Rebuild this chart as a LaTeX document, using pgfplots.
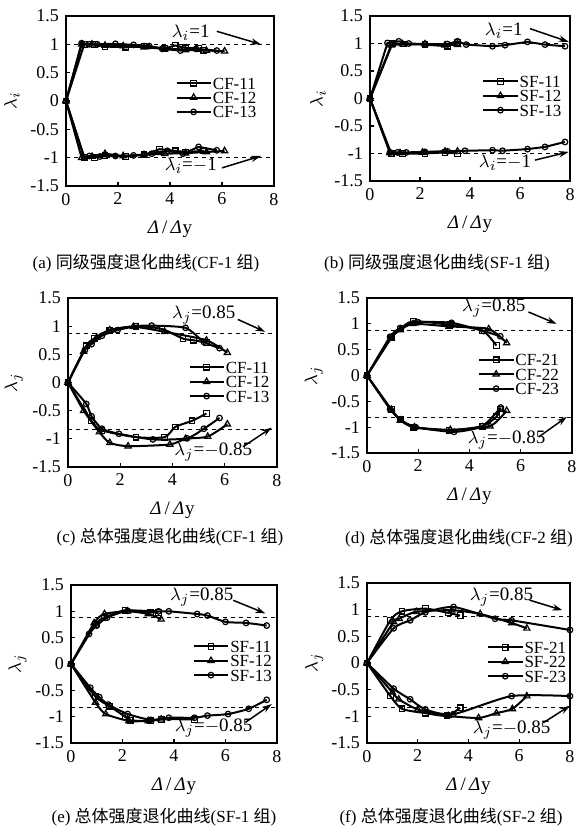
\documentclass[border=0pt]{standalone}
\usepackage{fontspec}
\setmainfont{Liberation Serif}
\newfontfamily\cjk{Noto Sans CJK SC}
\usepackage{pgfplots}
\pgfplotsset{compat=1.18}
\usetikzlibrary{arrows.meta}

\pgfplotsset{
 panel/.style={scale only axis, xmin=0,xmax=8,ymin=-1.5,ymax=1.5,
  xtick={0,2,4,6,8}, xticklabels={0,2,4,6,8},
  ytick={-1.5,-1,-0.5,0,0.5,1,1.5}, yticklabels={-1.5,-1,-0.5,0,0.5,1,1.5},
  tick align=inside, xtick pos=bottom, ytick pos=left, major tick length=2pt,
  axis line style={line width=0.8pt},
  every tick/.style={black,line width=0.6pt},
  ticklabel style={font=\fontsize{9}{10}\selectfont},
  xlabel={\textit{Δ}\,/\,\textit{Δ}\kern0.5pt y},
  xlabel style={yshift=-1pt},
  label style={font=\fontsize{9.5}{10}\selectfont},
  ylabel style={at={(axis description cs:-0.26,0.5)}, anchor=center},
  legend cell align=left,
  legend style={draw=none, fill=none, font=\fontsize{8.5}{8.5}\selectfont, anchor=north west, inner sep=0pt, row sep=0pt, nodes={inner sep=0.6pt, text height=6pt, text depth=0pt}},
 },
 s1/.style={black, line width=1pt, mark=square, mark size=1.4pt, mark options={fill=white, line width=0.6pt, solid}},
 s2/.style={black, line width=1pt, mark=triangle, mark size=1.8pt, mark options={fill=white, line width=0.6pt, solid}},
 s3/.style={black, line width=1pt, mark=o, mark size=1.4pt, mark options={fill=white, line width=0.6pt, solid}},
 refl/.style={black, line width=0.4pt, dash pattern=on 2pt off 2pt, forget plot},
}
\tikzset{
 arr/.style={-{Stealth[length=5pt,width=3.2pt]}, line width=0.75pt},
 lab/.style={font=\fontsize{9.5}{10}\selectfont, inner sep=0.5pt},
 capt/.style={font=\fontsize{8.5}{10}\selectfont, inner sep=0pt},
}

\begin{document}
\begin{tikzpicture}
\path[use as bounding box] (0,0) rectangle (289.5pt,-416pt);

% (a)
\begin{axis}[panel, at={(33pt,-8pt)}, anchor=north west, width=104pt, height=85pt,
  ylabel={$\lambda_i$}, legend style={at={(0.525,0.65)}}]
\addplot[refl] coordinates {(0,1) (8,1)};
\addplot[refl] coordinates {(0,-1) (8,-1)};
\addplot[s1] coordinates {(0,0) (0.7,1.0) (1.1,1.0) (1.5,0.96) (2.3,0.95) (3.0,0.97) (3.8,0.93) (4.2,0.98) (4.6,0.94) (5.1,0.93) (5.3,0.89)};
\addplot[s2] coordinates {(0,0) (0.6,1.0) (1.0,1.0) (1.5,0.98) (2.2,0.97) (3.0,0.95) (3.8,0.92) (4.6,0.9) (5.4,0.89) (6.1,0.88)};
\addplot[s3] coordinates {(0,0) (0.6,1.02) (0.9,1.0) (1.2,1.0) (1.9,1.01) (2.6,0.99) (3.2,0.97) (3.7,0.92) (4.4,0.89) (5.0,0.92) (5.8,0.89)};
\addplot[s1, forget plot] coordinates {(0,0) (0.7,-1.0) (1.1,-1.0) (1.5,-0.96) (2.3,-0.98) (3.0,-0.95) (3.6,-0.85) (4.2,-0.88) (4.6,-0.9) (5.3,-0.88)};
\addplot[s2, forget plot] coordinates {(0,0) (0.6,-1.0) (1.0,-0.98) (1.5,-0.93) (2.2,-0.97) (3.0,-0.95) (3.8,-0.93) (4.6,-0.92) (5.4,-0.9) (6.1,-0.88)};
\addplot[s3, forget plot] coordinates {(0,0) (0.7,-0.99) (0.9,-0.97) (1.3,-0.98) (1.9,-0.97) (2.6,-0.96) (3.3,-0.93) (3.9,-0.88) (4.5,-0.93) (5.1,-0.81) (5.8,-0.87)};
\legend{CF-11,CF-12,CF-13}
\node[lab] at (axis cs:4.8,1.2) {$\lambda_i$=1};
\draw[arr] (axis cs:5.8,1.23) -- (axis cs:7.5,1.0);
\node[lab] at (axis cs:4.8,-1.14) {$\lambda_i$=$-$1};
\draw[arr] (axis cs:6.0,-1.18) -- (axis cs:7.5,-0.97);
\end{axis}

% (b)
\begin{axis}[panel, at={(185pt,-8pt)}, anchor=north west, width=100pt, height=82.5pt,
  ylabel={$\lambda_i$}, legend style={at={(0.56,0.65)}}]
\addplot[refl] coordinates {(0,1) (8,1)};
\addplot[refl] coordinates {(0,-1) (8,-1)};
\addplot[s1] coordinates {(0,0) (0.9,1.0) (1.35,0.99) (2.2,0.98) (3.1,0.95) (3.5,1.02)};
\addplot[s2] coordinates {(0,0) (0.85,0.97) (1.3,0.99) (2.2,0.99) (3.0,0.97) (3.5,0.98)};
\addplot[s3] coordinates {(0,0) (0.7,1.01) (1.15,1.04) (1.55,1.0) (2.2,0.99) (3.1,0.99) (3.5,1.04) (3.85,0.98) (4.9,0.95) (5.4,0.97) (6.3,1.03) (7.0,0.98) (7.8,0.95)};
\addplot[s1, forget plot] coordinates {(0,0) (0.85,-1.0) (1.3,-1.0) (2.2,-1.0) (3.0,-0.98) (3.5,-1.0)};
\addplot[s2, forget plot] coordinates {(0,0) (0.8,-0.99) (1.2,-0.99) (2.1,-0.98) (3.0,-0.96) (3.5,-0.96)};
\addplot[s3, forget plot] coordinates {(0,0) (0.8,-0.98) (1.1,-0.98) (1.45,-0.98) (2.2,-0.97) (3.1,-0.96) (3.8,-0.95) (4.9,-0.94) (5.3,-0.95) (6.3,-0.92) (7.0,-0.88) (7.8,-0.79)};
\legend{SF-11,SF-12,SF-13}
\node[lab] at (axis cs:5.35,1.23) {$\lambda_i$=1};
\draw[arr] (axis cs:6.4,1.27) -- (axis cs:7.95,1.03);
\node[lab] at (axis cs:5.4,-1.17) {$\lambda_i$=$-$1};
\draw[arr] (axis cs:6.6,-1.12) -- (axis cs:7.95,-0.97);
\end{axis}

% (c)
\begin{axis}[panel, at={(34pt,-149pt)}, anchor=north west, width=104.5pt, height=84.5pt,
  ylabel={$\lambda_j$}, legend style={at={(0.575,0.635)}}]
\addplot[refl] coordinates {(0,0.87) (8,0.87)};
\addplot[refl] coordinates {(0,-0.83) (8,-0.83)};
\addplot[s1, smooth, tension=0.4] coordinates {(0,0) (0.7,0.65) (1.0,0.78) (1.6,0.93) (2.6,1.0) (3.6,0.95) (4.4,0.78) (4.8,0.75) (5.3,0.71)};
\addplot[s2, smooth, tension=0.4] coordinates {(0,0) (0.6,0.55) (1.1,0.8) (1.6,0.93) (2.5,0.99) (3.7,0.9) (5.3,0.75) (6.1,0.53)};
\addplot[s3, smooth, tension=0.4] coordinates {(0,0) (0.65,0.58) (0.9,0.68) (1.3,0.83) (1.9,0.93) (2.6,1.0) (3.2,1.01) (4.5,0.97) (5.2,0.72) (5.8,0.61)};
\addplot[s1, smooth, tension=0.4, forget plot] coordinates {(0,0) (0.9,-0.68) (1.3,-0.85) (2.6,-0.97) (3.7,-0.97) (4.1,-0.79) (4.75,-0.68) (5.3,-0.55)};
\addplot[s2, smooth, tension=0.4, forget plot] coordinates {(0,0) (0.6,-0.5) (1.2,-0.88) (1.6,-1.07) (2.3,-1.13) (3.9,-1.1) (4.5,-1.0) (5.35,-0.96) (6.1,-0.74)};
\addplot[s3, smooth, tension=0.4, forget plot] coordinates {(0,0) (0.7,-0.38) (0.9,-0.6) (1.3,-0.82) (1.95,-0.91) (3.25,-1.01) (4.55,-0.99) (5.2,-0.82) (5.8,-0.63)};
\legend{CF-11,CF-12,CF-13}
\node[lab] at (axis cs:5.2,1.2) {$\lambda_j$=0.85};
\draw[arr] (axis cs:6.5,1.12) -- (axis cs:7.55,0.9);
\node[lab] at (axis cs:5.56,-1.23) {$\lambda_j$=$-$0.85};
\draw[arr] (axis cs:6.7,-1.14) -- (axis cs:7.8,-0.8);
\end{axis}

% (d)
\begin{axis}[panel, at={(183.5pt,-149pt)}, anchor=north west, width=102.5pt, height=77.5pt,
  ylabel={$\lambda_j$}, legend style={at={(0.54,0.65)}}]
\addplot[refl] coordinates {(0,0.88) (8,0.88)};
\addplot[refl] coordinates {(0,-0.82) (8,-0.82)};
\addplot[s1, smooth, tension=0.4] coordinates {(0,0) (0.95,0.73) (1.3,0.9) (1.8,1.05) (3.25,0.98) (4.5,0.87) (5.05,0.58)};
\addplot[s2, smooth, tension=0.4] coordinates {(0,0) (0.95,0.73) (1.3,0.88) (1.8,1.0) (3.2,0.95) (4.75,0.9) (5.45,0.63)};
\addplot[s3, smooth, tension=0.4] coordinates {(0,0) (0.9,0.75) (1.3,0.92) (2.0,1.03) (3.3,1.02) (4.55,0.86) (5.2,0.76)};
\addplot[s1, smooth, tension=0.4, forget plot] coordinates {(0,0) (0.95,-0.66) (1.3,-0.85) (1.8,-1.0) (3.2,-1.06) (4.5,-0.98) (5.05,-0.8) (5.2,-0.65)};
\addplot[s2, smooth, tension=0.4, forget plot] coordinates {(0,0) (0.95,-0.66) (1.3,-0.87) (1.85,-1.0) (3.25,-1.05) (4.8,-0.98) (5.45,-0.68)};
\addplot[s3, smooth, tension=0.4, forget plot] coordinates {(0,0) (0.9,-0.65) (1.3,-0.85) (1.9,-1.0) (3.4,-1.09) (4.5,-0.98) (5.22,-0.62)};
\legend{CF-21,CF-22,CF-23}
\node[lab] at (axis cs:4.95,1.3) {$\lambda_j$=0.85};
\draw[arr] (axis cs:6.3,1.23) -- (axis cs:7.4,1.0);
\node[lab] at (axis cs:5.45,-1.25) {$\lambda_j$=$-$0.85};
\draw[arr] (axis cs:6.7,-1.19) -- (axis cs:7.8,-0.8);
\end{axis}

% (e)
\begin{axis}[panel, at={(35.5pt,-292.5pt)}, anchor=north west, width=103pt, height=79pt,
  ylabel={$\lambda_j$}, legend style={at={(0.59,0.66)}}]
\addplot[refl] coordinates {(0,0.88) (8,0.88)};
\addplot[refl] coordinates {(0,-0.83) (8,-0.83)};
\addplot[s1, smooth, tension=0.4] coordinates {(0,0) (0.95,0.75) (1.3,0.88) (2.1,1.02) (3.1,0.98) (3.4,0.98)};
\addplot[s2, smooth, tension=0.4] coordinates {(0,0) (0.9,0.78) (1.3,0.95) (2.2,1.0) (3.0,0.95) (3.5,0.85)};
\addplot[s3, smooth, tension=0.4] coordinates {(0,0) (0.7,0.57) (1.0,0.73) (1.4,0.88) (2.2,1.01) (3.4,1.0) (3.8,1.0) (4.9,0.95) (5.3,0.92) (6.0,0.8) (6.8,0.78) (7.6,0.73)};
\addplot[s1, smooth, tension=0.4, forget plot] coordinates {(0,0) (0.95,-0.62) (1.5,-0.8) (2.1,-1.0) (2.3,-1.07) (3.1,-1.08) (3.5,-1.05) (4.8,-1.05)};
\addplot[s2, smooth, tension=0.4, forget plot] coordinates {(0,0) (0.95,-0.73) (1.35,-0.95) (2.25,-1.08) (3.0,-1.08) (3.5,-1.05)};
\addplot[s3, smooth, tension=0.4, forget plot] coordinates {(0,0) (0.75,-0.45) (1.1,-0.63) (1.45,-0.77) (2.2,-0.95) (3.1,-1.06) (3.8,-1.02) (4.8,-1.02) (5.3,-0.98) (6.1,-0.95) (6.9,-0.85) (7.6,-0.68)};
\legend{SF-11,SF-12,SF-13}
\node[lab] at (axis cs:5.08,1.27) {$\lambda_j$=0.85};
\draw[arr] (axis cs:6.3,1.21) -- (axis cs:7.55,0.96);
\node[lab] at (axis cs:5.54,-1.21) {$\lambda_j$=$-$0.85};
\draw[arr] (axis cs:6.77,-1.11) -- (axis cs:7.8,-0.76);
\end{axis}

% (f)
\begin{axis}[panel, at={(183.5pt,-291.5pt)}, anchor=north west, width=101.5pt, height=80pt,
  ylabel={$\lambda_j$}, legend style={at={(0.59,0.645)}}]
\addplot[refl] coordinates {(0,0.88) (8,0.88)};
\addplot[refl] coordinates {(0,-0.83) (8,-0.83)};
\addplot[s1, smooth, tension=0.4] coordinates {(0,0) (0.92,0.8) (1.38,0.97) (2.3,1.02) (3.2,0.94) (3.67,0.89)};
\addplot[s2, smooth, tension=0.4] coordinates {(0,0) (1.05,0.77) (1.27,0.83) (1.94,0.96) (3.34,0.99) (4.46,0.92) (5.7,0.75) (6.3,0.65)};
\addplot[s3, smooth, tension=0.4] coordinates {(0,0) (1.05,0.65) (1.7,0.8) (2.3,0.95) (3.41,1.05) (5.05,0.83) (5.7,0.8) (8.0,0.62)};
\addplot[s1, smooth, tension=0.4, forget plot] coordinates {(0,0) (0.92,-0.62) (1.38,-0.86) (2.3,-0.94) (3.15,-0.99) (3.67,-0.84)};
\addplot[s2, smooth, tension=0.4, forget plot] coordinates {(0,0) (1.0,-0.55) (1.25,-0.68) (2.0,-0.87) (3.2,-0.99) (4.4,-1.03) (5.1,-0.94) (5.73,-0.86) (6.3,-0.62)};
\addplot[s3, smooth, tension=0.4, forget plot] coordinates {(0,0) (1.05,-0.48) (1.7,-0.68) (2.3,-0.87) (3.4,-0.96) (5.7,-0.62) (8.0,-0.62)};
\legend{SF-21,SF-22,SF-23}
\node[lab] at (axis cs:5.3,1.24) {$\lambda_j$=0.85};
\draw[arr] (axis cs:6.4,1.18) -- (axis cs:7.7,0.99);
\node[lab] at (axis cs:5.7,-1.25) {$\lambda_j$=$-$0.85};
\draw[arr] (axis cs:6.95,-1.12) -- (axis cs:8.0,-0.8);
\end{axis}

% captions
\node[capt] at (73pt,-131.5pt) {(a) {\cjk 同级强度退化曲线}(CF-1 {\cjk 组})};
\node[capt] at (218.5pt,-131.5pt) {(b) {\cjk 同级强度退化曲线}(SF-1 {\cjk 组})};
\node[capt] at (85pt,-268.5pt) {(c) {\cjk 总体强度退化曲线}(CF-1 {\cjk 组})};
\node[capt] at (229.5pt,-269pt) {(d) {\cjk 总体强度退化曲线}(CF-2 {\cjk 组})};
\node[capt] at (82pt,-408.5pt) {(e) {\cjk 总体强度退化曲线}(SF-1 {\cjk 组})};
\node[capt] at (225.5pt,-408.5pt) {(f) {\cjk 总体强度退化曲线}(SF-2 {\cjk 组})};
\end{tikzpicture}
\end{document}
